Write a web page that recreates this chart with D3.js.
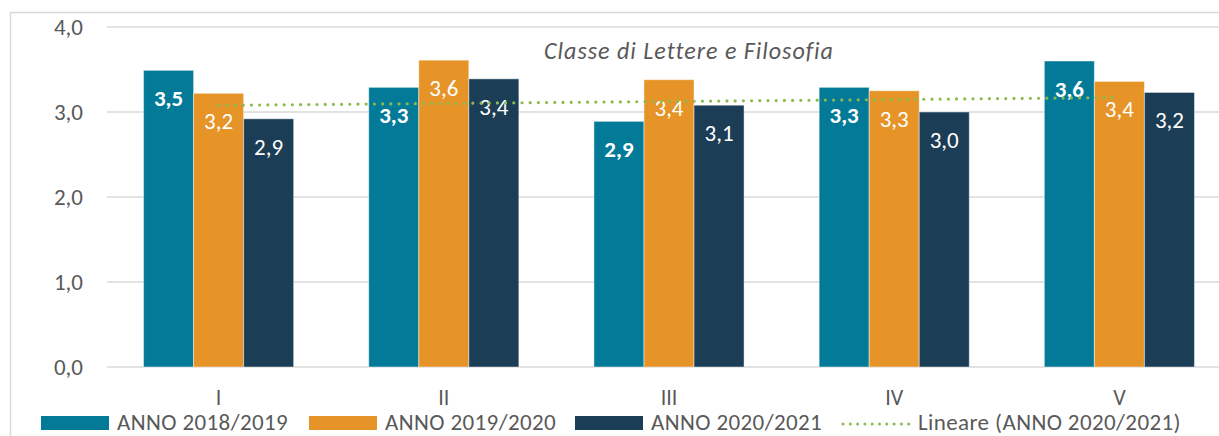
<!DOCTYPE html>
<html><head><meta charset="utf-8">
<script src="https://cdn.jsdelivr.net/npm/d3@7"></script>
<style>
html,body{margin:0;padding:0;background:#fff;overflow:hidden}
svg{display:block;font-family:Carlito,Calibri,Lato,sans-serif}
</style></head><body>
<svg id="c" width="1219" height="436"></svg>
<script>
const categories = ["I","II","III","IV","V"];
const seriesNames = ["ANNO 2018/2019","ANNO 2019/2020","ANNO 2020/2021"];
const values2018 = [3.49, 3.29, 2.89, 3.29, 3.60];
const values2019 = [3.22, 3.61, 3.38, 3.25, 3.36];
const values2020 = [2.92, 3.39, 3.08, 3.00, 3.23];
const yTicks = [0,1,2,3,4];
const title = "Classe di Lettere e Filosofia";
const trendName = "Lineare (ANNO 2020/2021)";
const colors = ["#037B98","#E69428","#1B3D55"];
const trendColor = "#8DBA4E";

const series = [values2018, values2019, values2020];
const svg = d3.select("#c");
const FF = "Carlito,Calibri,Lato,sans-serif";

// outer frame
svg.append("rect").attr("x",10.5).attr("y",12.5).attr("width",1240).attr("height",440)
  .attr("fill","none").attr("stroke","#d9d9d9").attr("stroke-width",1.5);

const x0 = d3.scaleBand().domain(categories).range([106,1232]).paddingInner(1/3).paddingOuter(1/6);
const x1 = d3.scaleBand().domain(d3.range(series.length)).range([0,x0.bandwidth()]);
const y = d3.scaleLinear().domain([0,4]).range([367,27]);

// gridlines
svg.append("g").selectAll("line").data(yTicks).join("line")
  .attr("x1",107).attr("x2",1219).attr("y1",d=>y(d)).attr("y2",d=>y(d))
  .attr("stroke","#d9d9d9").attr("stroke-width",1.5);

// y axis labels
const yAxis = d3.axisLeft(y).tickValues(yTicks).tickSize(0).tickPadding(0)
  .tickFormat(d=>d3.format(".1f")(d).replace(".",","));
const ya = svg.append("g").attr("transform","translate(83,0)").call(yAxis);
ya.select(".domain").remove();
ya.selectAll("text").attr("font-size",23).attr("fill","#595959").attr("font-family",FF);

// x axis labels
const xAxis = d3.axisBottom(x0).tickSize(0).tickPadding(0);
const xa = svg.append("g").attr("transform","translate(0,389)").call(xAxis);
xa.select(".domain").remove();
xa.selectAll("text").attr("font-size",22).attr("fill","#595959").attr("font-family",FF);

// bars
const fmt = v => d3.format(".1f")(v).replace(".",",");
series.forEach((vals,si)=>{
  const g = svg.append("g");
  g.selectAll("rect").data(vals).join("rect")
    .attr("x",(d,i)=>x0(categories[i])+x1(si))
    .attr("y",d=>y(d))
    .attr("width",x1.bandwidth())
    .attr("height",d=>y(0)-y(d))
    .attr("fill",colors[si])
    .attr("stroke","rgba(255,255,255,0.45)").attr("stroke-width",1);
  g.selectAll("text").data(vals).join("text")
    .attr("x",(d,i)=>x0(categories[i])+x1(si)+x1.bandwidth()/2)
    .attr("y",d=>y(d)+36)
    .attr("text-anchor","middle")
    .attr("font-size",23)
    .attr("font-weight",si===0?"bold":"normal")
    .attr("fill","#fff")
    .text(d=>fmt(d));
});

// linear trendline for 2020/2021
const xs = values2020.map((d,i)=>i+1);
const mx = d3.mean(xs), my = d3.mean(values2020);
const slope = d3.sum(xs.map((xv,i)=>(xv-mx)*(values2020[i]-my)))/d3.sum(xs.map(xv=>(xv-mx)*(xv-mx)));
const icpt = my - slope*mx;
const trendPts = xs.map(xv=>[x0(categories[xv-1])+x0.bandwidth()/2, y(icpt+slope*xv)]);
const tp = [trendPts[0], trendPts[trendPts.length-1]];
svg.append("path").attr("d",d3.line()(tp)).attr("fill","none")
  .attr("stroke",trendColor).attr("stroke-width",3.2).attr("stroke-linecap","round")
  .attr("stroke-dasharray","0 8.2");

// title
svg.append("text").attr("x",689).attr("y",59).attr("text-anchor","middle")
  .attr("font-size",24).attr("letter-spacing",1).attr("font-style","italic").attr("fill","#595959").text(title);

// legend
const leg = svg.append("g");
const legX = [41,309,575];
seriesNames.forEach((n,i)=>{
  leg.append("rect").attr("x",legX[i]).attr("y",416).attr("width",68).attr("height",14).attr("fill",colors[i]);
  leg.append("text").attr("x",legX[i]+76).attr("y",430).attr("font-size",23).attr("letter-spacing",0.4)
    .attr("fill","#595959").text(n);
});
leg.append("path").attr("d",d3.line()([[843,424],[909,424]])).attr("stroke",trendColor)
  .attr("stroke-width",3).attr("stroke-linecap","round").attr("stroke-dasharray","0 7.3");
leg.append("text").attr("x",918).attr("y",430).attr("font-size",23).attr("letter-spacing",0.4)
  .attr("fill","#595959").text(trendName);
</script>
</body></html>
